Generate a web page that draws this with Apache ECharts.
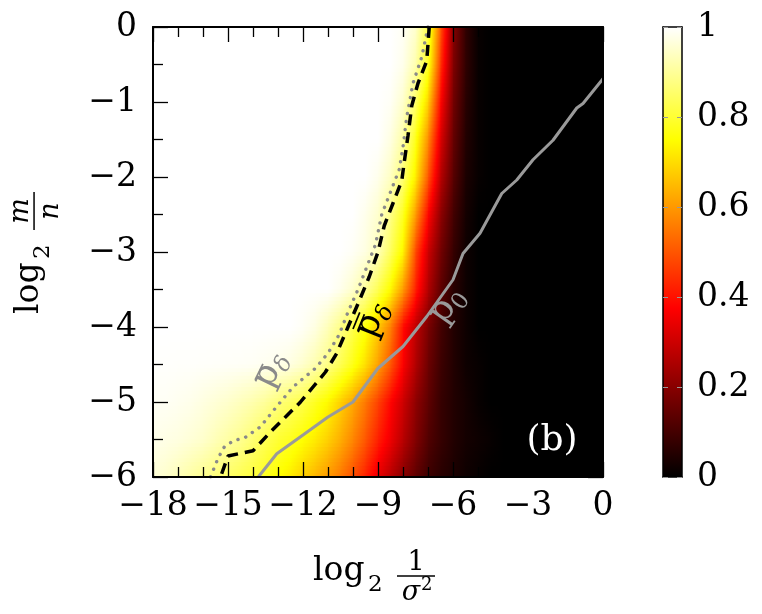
<!DOCTYPE html>
<html><head><meta charset="utf-8">
<script src="https://cdn.jsdelivr.net/npm/echarts@6/dist/echarts.min.js"></script>
<style>html,body{margin:0;padding:0;background:#fff}#c{width:762px;height:614px}</style>
</head><body><div id="c"></div>
<script>
// ---- data ----
const xSamples = [-18,-17.5,-17,-16.5,-16,-15.5,-15,-14.5,-14,-13.5,-13,-12.5,-12,-11.5,-11,-10.5,-10,-9.5,-9,-8.5,-8,-7.5,-7,-6.5,-6,-5.5,-5,-4.5,-4,-3.5,-3,-2.5,-2,-1.5,-1,-0.5,0];
const ySamples = [0,-0.5,-1,-1.5,-2,-2.5,-3,-3.5,-4,-4.5,-5,-5.5,-6];
const row00 = [1,1,1,1,1,1,1,1,1,1,1,1,1,1,1,1,1,1,1,1,0.99,0.95,0.82,0.5,0.2,0.07,0.01,0,0,0,0,0,0,0,0,0,0];
const row05 = [1,1,1,1,1,1,1,1,1,1,1,1,1,1,1,1,1,1,1,1,0.98,0.92,0.78,0.45,0.19,0.07,0.01,0,0,0,0,0,0,0,0,0,0];
const row10 = [1,1,1,1,1,1,1,1,1,1,1,1,1,1,1,1,1,1,1,0.99,0.95,0.85,0.68,0.38,0.17,0.06,0.01,0,0,0,0,0,0,0,0,0,0];
const row15 = [1,1,1,1,1,1,1,1,1,1,1,1,1,1,1,1,1,1,1,0.97,0.91,0.77,0.58,0.32,0.15,0.05,0.01,0,0,0,0,0,0,0,0,0,0];
const row20 = [1,1,1,1,1,1,1,1,1,1,1,1,1,1,1,1,1,1,0.98,0.94,0.86,0.72,0.5,0.27,0.13,0.04,0.01,0,0,0,0,0,0,0,0,0,0];
const row25 = [1,1,1,1,1,1,1,1,1,1,1,1,1,1,1,1,1,0.98,0.95,0.88,0.78,0.6,0.38,0.21,0.1,0.03,0,0,0,0,0,0,0,0,0,0,0];
const row30 = [1,1,1,1,1,1,1,1,1,1,1,1,1,1,1,1,0.99,0.97,0.93,0.84,0.73,0.48,0.3,0.17,0.08,0.02,0,0,0,0,0,0,0,0,0,0,0];
const row35 = [1,1,1,1,1,1,1,1,1,1,1,1,1,1,1,0.98,0.95,0.9,0.83,0.74,0.6,0.42,0.26,0.14,0.06,0.02,0,0,0,0,0,0,0,0,0,0,0];
const row40 = [1,1,1,1,1,1,1,1,1,1,1,1,0.99,0.97,0.93,0.88,0.82,0.76,0.67,0.56,0.39,0.28,0.18,0.1,0.05,0.02,0,0,0,0,0,0,0,0,0,0,0];
const row45 = [0.997,0.997,0.996,0.996,0.995,0.994,0.993,0.992,0.99,0.985,0.98,0.97,0.95,0.92,0.88,0.83,0.77,0.7,0.61,0.5,0.37,0.26,0.16,0.09,0.05,0.02,0.01,0,0,0,0,0,0,0,0,0,0];
const row50 = [0.99,0.99,0.985,0.98,0.97,0.96,0.95,0.935,0.92,0.9,0.87,0.845,0.82,0.78,0.74,0.68,0.62,0.55,0.47,0.38,0.3,0.21,0.14,0.08,0.05,0.03,0.01,0,0,0,0,0,0,0,0,0,0];
const row55 = [0.98,0.975,0.97,0.96,0.95,0.93,0.91,0.89,0.86,0.83,0.8,0.78,0.75,0.72,0.68,0.63,0.57,0.5,0.42,0.35,0.27,0.19,0.12,0.08,0.05,0.03,0.02,0.01,0,0,0,0,0,0,0,0,0];
const row60 = [0.96,0.95,0.93,0.91,0.89,0.87,0.85,0.83,0.81,0.78,0.75,0.72,0.68,0.64,0.6,0.55,0.49,0.42,0.34,0.27,0.2,0.14,0.09,0.06,0.04,0.02,0.01,0,0,0,0,0,0,0,0,0,0];
const zRows = [row00,row05,row10,row15,row20,row25,row30,row35,row40,row45,row50,row55,row60];

// curves (x = log2 1/sigma^2, y = log2 m/n)
const pBarDelta = [[-7.0,0],[-7.25,-0.4],[-7.6,-0.75],[-7.85,-1.2],[-8.0,-1.6],[-8.15,-1.9],[-8.5,-2.2],[-8.85,-2.5],[-9.1,-2.9],[-9.45,-3.2],[-9.8,-3.5],[-10.2,-3.8],[-10.55,-4.1],[-11.0,-4.35],[-11.5,-4.55],[-12.4,-4.8],[-13.05,-5.06],[-13.7,-5.33],[-14.3,-5.47],[-14.8,-5.52],[-15.15,-5.6],[-15.4,-5.75],[-15.7,-6.0]];
const pBarBarDelta = [[-6.95,0],[-7.05,-0.45],[-7.4,-0.75],[-7.65,-1.05],[-7.8,-1.45],[-7.95,-1.8],[-8.05,-2.05],[-8.4,-2.35],[-8.75,-2.65],[-9.0,-3.0],[-9.35,-3.33],[-9.75,-3.65],[-10.2,-4.0],[-10.65,-4.35],[-11.1,-4.6],[-11.6,-4.8],[-12.1,-5.0],[-12.7,-5.2],[-13.3,-5.4],[-14.0,-5.65],[-15.0,-5.72],[-15.3,-6.0]];
const p0Curve = [[-13.79,-6.0],[-13.05,-5.69],[-12.0,-5.44],[-11.0,-5.2],[-10.0,-5.0],[-9.0,-4.55],[-8.0,-4.26],[-7.05,-3.86],[-6.0,-3.37],[-5.6,-3.02],[-4.92,-2.75],[-4.05,-2.22],[-3.45,-2.04],[-2.8,-1.77],[-2.0,-1.51],[-1.05,-1.08],[-0.8,-1.02],[0,-0.69]];

// colour map (pgfplots "hot")
const hotPos = [0, 0.375, 0.75, 1];
const hotRGB = [[0,0,0],[255,0,0],[255,255,0],[255,255,255]];
const cbarRange = [0, 1];

// annotation anchors (data coords) and angles
const labelBar = {pos: [-13.2, -4.6], rot: 64};
const labelBarBar = {pos: [-9.12, -3.93], rot: 68};
const labelP0 = {pos: [-6.16, -3.75], rot: 55};
const labelB = [-2.04, -5.52];

// ---- rendering ----
const FF = '"DejaVu Serif", "Liberation Serif", serif';
function hot(v) {
  v = Math.max(0, Math.min(1, v));
  let k = 0;
  while (k < hotPos.length - 2 && v > hotPos[k+1]) k++;
  const t = (v - hotPos[k]) / (hotPos[k+1] - hotPos[k]);
  const c = hotRGB[k].map((a, i) => Math.round(a + (hotRGB[k+1][i] - a) * t));
  return 'rgb(' + c.join(',') + ')';
}
const cells = [];
for (let j = 0; j < ySamples.length - 1; j++) {
  for (let i = 0; i < xSamples.length - 1; i++) {
    cells.push([xSamples[i], ySamples[j], xSamples[i+1], ySamples[j+1],
      zRows[j][i], zRows[j][i+1], zRows[j+1][i], zRows[j+1][i+1]]);
  }
}
function renderCell(params, api) {
  const pa = api.coord([api.value(0), api.value(1)]);
  const pb = api.coord([api.value(2), api.value(3)]);
  const v00 = api.value(4), v10 = api.value(5), v01 = api.value(6), v11 = api.value(7);
  const left = Math.min(pa[0], pb[0]), w = Math.abs(pb[0] - pa[0]);
  const top = Math.min(pa[1], pb[1]), h = Math.abs(pb[1] - pa[1]);
  const S = 10, children = [];
  for (let s = 0; s < S; s++) {
    const t = (s + 0.5) / S;
    const vl = v00 * (1 - t) + v01 * t, vr = v10 * (1 - t) + v11 * t;
    let fill;
    if (Math.abs(vl - vr) < 1e-6) fill = hot(vl);
    else {
      const stops = [];
      for (let k = 0; k <= 6; k++) { const o = k / 6; stops.push({offset: o, color: hot(vl + (vr - vl) * o)}); }
      fill = new echarts.graphic.LinearGradient(0, 0, 1, 0, stops);
    }
    children.push({type: 'rect', shape: {x: left, y: top + s * h / S, width: w + 0.8, height: h / S + 0.8}, style: {fill: fill}});
  }
  return {type: 'group', children: children};
}
function renderBar(params, api) {
  const pa = api.coord([api.value(0), api.value(1)]);
  const pb = api.coord([api.value(2), api.value(3)]);
  const stops = hotPos.map((p, i) => ({offset: p, color: 'rgb(' + hotRGB[i].join(',') + ')'}));
  return {type: 'rect', shape: {x: pa[0], y: pb[1], width: pb[0] - pa[0], height: pa[1] - pb[1]},
    style: {fill: new echarts.graphic.LinearGradient(0, 1, 0, 0, stops)}};
}
const minus = v => (v < 0 ? '\u2212' + Math.abs(v) : String(v));
const tickStyle = {color: '#000', width: 1.3};
const LBL = {fontSize: 33, fontFamily: FF, color: '#000'};
function mainAxis(pos, show, extra) {
  return Object.assign({
    type: 'value', position: pos, gridIndex: 0, z: 10,
    axisLine: {show: true, onZero: false, lineStyle: {color: '#000', width: 2}},
    axisTick: {show: true, inside: true, length: 15, lineStyle: tickStyle},
    splitLine: {show: false}, minorSplitLine: {show: false},
    axisLabel: {show: false}
  }, extra);
}
const option = {
  animation: false,
  backgroundColor: '#fff',
  grid: [
    {left: 153, top: 27, width: 450, height: 450, outerBoundsMode: 'none'},
    {left: 663, top: 27, width: 19, height: 450, outerBoundsMode: 'none'}
  ],
  xAxis: [
    mainAxis('bottom', true, {min: -18, max: 0, interval: 3, minorTick: {show: true, splitNumber: 3, length: 10, lineStyle: tickStyle}, axisLabel: Object.assign({show: true, margin: 13, formatter: minus}, LBL)}),
    mainAxis('top', false, {min: -18, max: 0, interval: 3, minorTick: {show: true, splitNumber: 3, length: 10, lineStyle: tickStyle}}),
    {type: 'value', gridIndex: 1, min: 0, max: 1, position: 'bottom', axisLine: {show: true, onZero: false, lineStyle: {color: '#000', width: 1.5}}, axisTick: {show: false}, axisLabel: {show: false}, splitLine: {show: false}, z: 10},
    {type: 'value', gridIndex: 1, min: 0, max: 1, position: 'top', axisLine: {show: true, onZero: false, lineStyle: {color: '#000', width: 1.5}}, axisTick: {show: false}, axisLabel: {show: false}, splitLine: {show: false}, z: 10}
  ],
  yAxis: [
    mainAxis('left', true, {min: -6, max: 0, interval: 1, minorTick: {show: true, splitNumber: 2, length: 10, lineStyle: tickStyle}, axisLabel: Object.assign({show: true, margin: 16, formatter: minus}, LBL)}),
    mainAxis('right', false, {min: -6, max: 0, interval: 1, minorTick: {show: true, splitNumber: 2, length: 10, lineStyle: tickStyle}}),
    {type: 'value', gridIndex: 1, min: cbarRange[0], max: cbarRange[1], interval: 0.2, position: 'right', z: 10,
      axisLine: {show: true, onZero: false, lineStyle: {color: '#000', width: 1.5}},
      axisTick: {show: true, inside: true, length: 5, lineStyle: {color: '#999', width: 1}},
      axisLabel: Object.assign({show: true, margin: 15, formatter: v => String(Math.round(v * 10) / 10)}, LBL),
      splitLine: {show: false}},
    {type: 'value', gridIndex: 1, min: cbarRange[0], max: cbarRange[1], interval: 0.2, position: 'left', z: 10,
      axisLine: {show: true, onZero: false, lineStyle: {color: '#000', width: 1.5}},
      axisTick: {show: true, inside: true, length: 5, lineStyle: {color: '#999', width: 1}},
      axisLabel: {show: false}, splitLine: {show: false}}
  ],
  series: [
    {type: 'custom', xAxisIndex: 0, yAxisIndex: 0, renderItem: renderCell, data: cells, clip: true, silent: true, z: 1,
      dimensions: ['x0','y0','x1','y1','a','b','c','d'], encode: {x: [0, 2], y: [1, 3]}},
    {type: 'line', xAxisIndex: 0, yAxisIndex: 0, data: pBarDelta, symbol: 'none', silent: true, z: 3,
      lineStyle: {color: '#8a8a8a', width: 3.4, type: [0.1, 8], cap: 'round'}},
    {type: 'line', xAxisIndex: 0, yAxisIndex: 0, data: pBarBarDelta, symbol: 'none', silent: true, z: 4,
      lineStyle: {color: '#000', width: 3.5, type: [11, 7]}},
    {type: 'line', xAxisIndex: 0, yAxisIndex: 0, data: p0Curve, symbol: 'none', silent: true, z: 4,
      lineStyle: {color: '#9a9a9a', width: 3}},
    {type: 'custom', xAxisIndex: 2, yAxisIndex: 2, renderItem: renderBar, data: [[0, 0, 1, 1]], silent: true, z: 1,
      dimensions: ['x0','y0','x1','y1'], encode: {x: [0, 2], y: [1, 3]}}
  ]
};
const chart = echarts.init(document.getElementById('c'), null, {renderer: 'canvas'});
chart.setOption(option);

function txt(x, y, text, font, fill, align) {
  return {type: 'text', x: x, y: y, z: 50, style: {text: text, font: font, fill: fill,
    align: align || 'left', verticalAlign: 'middle', textAlign: align || 'left', textVerticalAlign: 'middle'}};
}
function bar(x, y, w, h, fill) {
  return {type: 'rect', x: 0, y: 0, z: 50, shape: {x: x, y: y, width: w, height: h}, style: {fill: fill}};
}
function pLabel(lab, color, bars, sub) {
  const px = chart.convertToPixel({xAxisIndex: 0, yAxisIndex: 0}, lab.pos);
  const ch = [txt(0, 0, 'p', '35px ' + FF, color), txt(22, 10, sub, (sub === '0' ? '' : 'italic ') + '23px ' + FF, color)];
  for (let k = 0; k < bars; k++) ch.push(bar(2, -10 - 5 * k, 18, 1.7, color));
  ch.forEach(c => { c.x -= 17; c.y -= 3.5; });
  return {type: 'group', x: px[0], y: px[1], rotation: lab.rot * Math.PI / 180, children: ch};
}
function logTitle(gx, gy, rot, num, den, denSup) {
  const ch = [
    txt(0, 0, 'log', '33px ' + FF, '#000'),
    txt(55, 14, '2', '23px ' + FF, '#000'),
    txt(103, -8, num, (num === '1' ? '' : 'italic ') + '27px ' + FF, '#000', 'center'),
    bar(84, 4.3, 38, 1.5, '#000'),
    txt(denSup ? 98 : 103, 22, den, 'italic 27px ' + FF, '#000', 'center')
  ];
  if (denSup) ch.push(txt(108, 14, denSup, '18px ' + FF, '#000'));
  return {type: 'group', x: gx, y: gy, rotation: rot, children: ch};
}
const bPx = chart.convertToPixel({xAxisIndex: 0, yAxisIndex: 0}, labelB);
chart.setOption({graphic: [
  pLabel(labelBar, '#8a8a8a', 1, '\u03b4'),
  pLabel(labelBarBar, '#000', 2, '\u03b4'),
  pLabel(labelP0, '#9a9a9a', 0, '0'),
  txt(bPx[0], bPx[1], '(b)', '36px ' + FF, '#fff', 'center'),
  logTitle(313, 571, 0, '1', '\u03c3', '2'),
  logTitle(29, 314, Math.PI / 2, 'm', 'n', null)
]});
</script></body></html>
